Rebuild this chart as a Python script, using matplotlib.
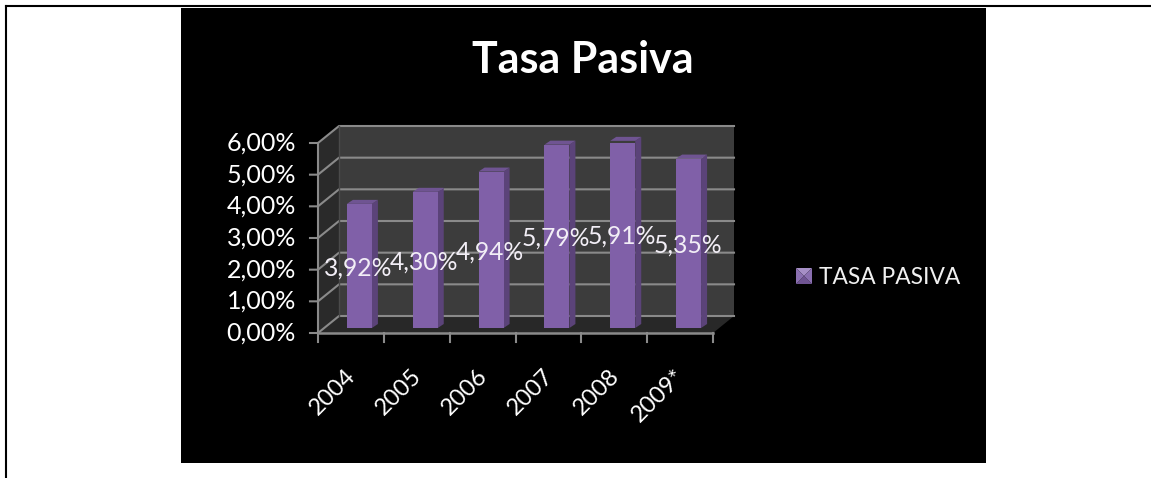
#!/usr/bin/env python3
# Tasa Pasiva - fake 3D column chart on a black panel
import matplotlib
matplotlib.use('Agg')
import matplotlib.pyplot as plt
from matplotlib.patches import Rectangle, Polygon

plt.rcParams['font.family'] = ['Lato', 'DejaVu Sans']

# data
years = ['2004', '2005', '2006', '2007', '2008', '2009*']
values = [3.92, 4.30, 4.94, 5.79, 5.91, 5.35]
y_ticks = [0, 1, 2, 3, 4, 5, 6]
y_labels = ['0,00%', '1,00%', '2,00%', '3,00%', '4,00%', '5,00%', '6,00%']
title = 'Tasa Pasiva'
series_name = 'TASA PASIVA'

W, H = 1151, 478
fig = plt.figure(figsize=(W / 100, H / 100), dpi=100, facecolor='white')


def fx(px):
    return px / W


def fy(py):
    return 1 - py / H


# page frame and black panel
frame = dict(transform=fig.transFigure, color='black', linewidth=1.5, zorder=-2)
fig.add_artist(plt.Line2D([fx(6), fx(6)], [0, fy(6)], **frame))
fig.add_artist(plt.Line2D([fx(6), 1], [fy(6), fy(6)], **frame))
fig.add_artist(Rectangle((fx(181), fy(463)), fx(805), 455 / H,
                         transform=fig.transFigure, facecolor='black',
                         edgecolor='none', zorder=-1))

# axes = front plane of the 3D box
left, right, top, bottom = 318, 713, 143, 333
ax = fig.add_axes([fx(left), fy(bottom), fx(right - left), (bottom - top) / H])
ax.set_zorder(2)
ax.set_xlim(0, len(years))
ax.set_ylim(0, 6)
ax.axis('off')

px_x = len(years) / (right - left)  # data units per pixel
px_y = 6 / (bottom - top)
dx, dy = 21 * px_x, 17 * px_y       # box depth
n = len(years)
grid_c = '#8a8a8a'

# walls and floor
ax.add_patch(Polygon([(dx, dy), (n + dx, dy), (n + dx, 6 + dy), (dx, 6 + dy)],
                     facecolor='#3c3c3c', edgecolor='none', clip_on=False, zorder=1))
ax.add_patch(Polygon([(0, 0), (dx, dy), (dx, 6 + dy), (0, 6)],
                     facecolor='#2a2a2a', edgecolor='none', clip_on=False, zorder=1))
ax.add_patch(Polygon([(0, 0), (n, 0), (n + dx, dy), (dx, dy)],
                     facecolor='#282828', edgecolor='none', clip_on=False, zorder=1))

# gridlines, with the diagonal part on the side wall
for t in y_ticks:
    ax.plot([-8 * px_x, 0, dx, n + dx], [t, t, t + dy, t + dy], color=grid_c,
            lw=1.5, clip_on=False, zorder=2)
ax.plot([0, 0], [0, 6], color=grid_c, lw=1.5, clip_on=False, zorder=2)
ax.plot([dx, dx], [dy, 6 + dy], color='#4a4a4a', lw=1, clip_on=False, zorder=2)

# x axis with ticks between the categories
ax.plot([0, n], [0, 0], color=grid_c, lw=1.8, clip_on=False, zorder=2)
for i in range(n + 1):
    ax.plot([i, i], [0, -9 * px_y], color=grid_c, lw=1.5, clip_on=False, zorder=2)

# columns
bar_w = 25 * px_x
off_x, off_y = 8.5 * px_x, 5 * px_y
side_x, side_y = 6 * px_x, 4 * px_y
for i, v in enumerate(values):
    x0 = i + 0.5 + off_x - bar_w / 2
    x1 = x0 + bar_w
    y1 = off_y + v
    ax.add_patch(Polygon([(x1, off_y), (x1 + side_x, off_y + side_y),
                          (x1 + side_x, y1 + side_y), (x1, y1)],
                         facecolor='#5b4379', edgecolor='none', clip_on=False, zorder=4))
    ax.add_patch(Polygon([(x0, y1), (x1, y1), (x1 + side_x, y1 + side_y), (x0 + side_x, y1 + side_y)],
                         facecolor='#6f5492', edgecolor='none', clip_on=False, zorder=4))
    ax.bar(i + 0.5 + off_x, v, width=bar_w, bottom=off_y, color='#8060a8', zorder=5)

# value labels
for i, v in enumerate(values):
    ax.text(i + 0.5 + off_x - 1 * px_x, off_y + v / 2 - 2 * px_y, f'{v:.2f}%'.replace('.', ','),
            ha='center', va='center', color='#f2eef6', fontsize=17.8, zorder=6, clip_on=False)

# tick labels
for t, lab in zip(y_ticks, y_labels):
    ax.text(-22 * px_x, t, lab, ha='right', va='center', color='white', fontsize=18, clip_on=False)
for i, lab in enumerate(years):
    ax.text(i + 0.41, -32 * px_y, lab, ha='right', va='top', rotation=45,
            rotation_mode='anchor', color='white', fontsize=17, clip_on=False)

# title
fig.text(fx(583), fy(60), title, ha='center', va='center', color='white',
         fontsize=31, fontweight='bold')

# legend key, shaded like a small pyramid
kx0, kx1, ky0, ky1, kxm, kym = fx(796), fx(812), fy(284), fy(268), fx(804), fy(276)
key_faces = [([(kx0, ky1), (kx1, ky1), (kxm, kym)], '#a68fc6'),
             ([(kx0, ky0), (kx1, ky0), (kxm, kym)], '#6f5492'),
             ([(kx0, ky0), (kx0, ky1), (kxm, kym)], '#8a6fb0'),
             ([(kx1, ky0), (kx1, ky1), (kxm, kym)], '#8a6fb0')]
for pts, col in key_faces:
    fig.add_artist(Polygon(pts, transform=fig.transFigure, facecolor=col, edgecolor='none'))
fig.text(fx(819), fy(277), series_name, ha='left', va='center', color='#f0f0f0', fontsize=16.4)

fig.savefig('out.png', dpi=100, facecolor='white')
